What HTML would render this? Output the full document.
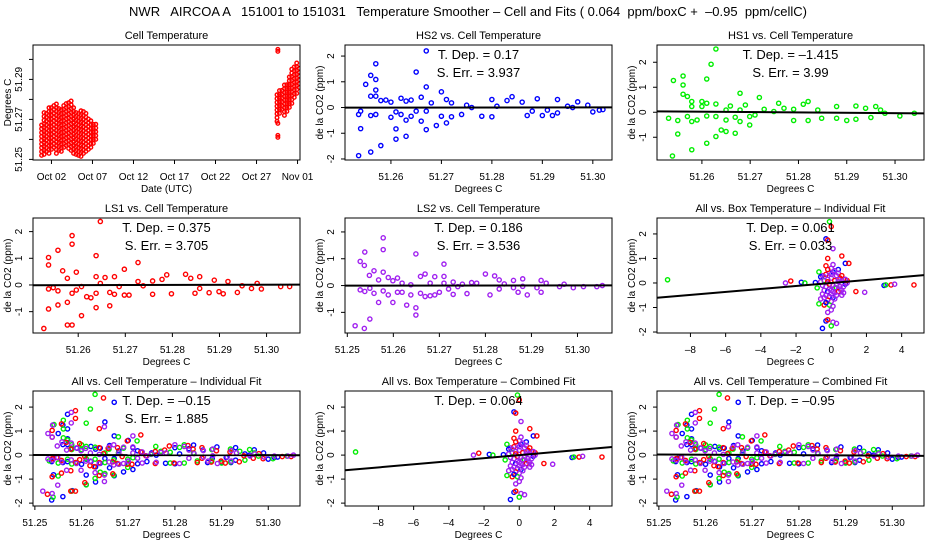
<!DOCTYPE html>
<html><head><meta charset="utf-8"><style>
html,body{margin:0;padding:0;background:#fff;}
svg{display:block;font-family:"Liberation Sans",sans-serif;}
</style></head><body>
<svg id="chart" width="936" height="540" viewBox="0 0 936 540">
<text x="468" y="16" text-anchor="middle" font-size="13" xml:space="preserve">NWR   AIRCOA A   151001 to 151031   Temperature Smoother – Cell and Fits ( 0.064  ppm/boxC +  –0.95  ppm/cellC)</text>
</svg>
<script>
// ---- Panel 1 data: cell temperature time series (day of Oct, low/high temps per column)
const cellDays = [0.8,1.1,1.4,1.7,2.0,2.3,2.6,2.9,3.2,3.5,3.8,4.1,4.4,4.7,5.0,5.3,5.6,5.9,6.2,6.5,6.8,7.1,7.4,29.5,29.8,30.1,30.4,30.7,31.0,31.3,31.6,31.9,32.2];
const cellLow  = [51.2520,51.2525,51.2540,51.2530,51.2550,51.2560,51.2530,51.2545,51.2540,51.2560,51.2570,51.2555,51.2545,51.2530,51.2525,51.2520,51.2515,51.2530,51.2540,51.2550,51.2560,51.2580,51.2600,51.2690,51.2730,51.2750,51.2720,51.2740,51.2760,51.2780,51.2810,51.2830,51.2860];
const cellHigh = [51.2690,51.2735,51.2745,51.2760,51.2760,51.2770,51.2790,51.2770,51.2760,51.2780,51.2790,51.2800,51.2800,51.2760,51.2740,51.2730,51.2745,51.2745,51.2730,51.2720,51.2705,51.2690,51.2680,51.2840,51.2850,51.2860,51.2880,51.2890,51.2920,51.2960,51.2980,51.2985,51.2960];
const cellExtraDays = [29.6,29.6,29.6,29.6,29.6];
const cellExtraTemps = [51.3050,51.3040,51.2620,51.2610,51.2680];

// ---- HS2 (blue)
const hs2T = [51.2536,51.2536,51.254,51.254,51.255,51.256,51.256,51.256,51.256,51.257,51.257,51.257,51.257,51.257,51.258,51.258,51.259,51.260,51.260,51.261,51.261,51.261,51.262,51.262,51.263,51.263,51.263,51.264,51.264,51.265,51.265,51.266,51.266,51.267,51.267,51.267,51.267,51.268,51.269,51.270,51.270,51.271,51.271,51.272,51.272,51.274,51.275,51.276,51.278,51.280,51.280,51.281,51.283,51.284,51.286,51.287,51.288,51.289,51.290,51.291,51.292,51.293,51.293,51.295,51.296,51.297,51.299,51.300,51.3013,51.302];
const hs2V = [-1.87,-0.27,-0.14,-0.82,0.9,1.25,0.44,-0.31,-1.73,1.7,1.09,0.68,0.44,-0.27,0.27,-1.48,0.29,0.21,-0.38,-0.17,-0.83,-1.23,0.36,-0.27,0.25,-0.49,-1.12,0.29,-0.34,1.38,-0.14,0.40,-0.53,2.2,0.8,-0.14,-0.86,0.18,-0.7,0.61,-0.34,0.31,-0.6,0.18,-0.36,-0.27,0.09,0,-0.34,0.31,-0.36,0.05,0.27,0.42,0.21,-0.31,-0.14,0.34,-0.31,-0.1,-0.31,0.31,-0.21,0.05,0,0.22,0.09,-0.17,-0.1,-0.08];
// ---- HS1 (green)
const hs1T = [51.2539,51.2531,51.2541,51.255,51.255,51.2561,51.2561,51.2561,51.257,51.257,51.2579,51.2579,51.2579,51.2579,51.259,51.26,51.26,51.261,51.261,51.261,51.261,51.2619,51.2629,51.2629,51.2629,51.2629,51.264,51.265,51.265,51.265,51.2659,51.2669,51.2669,51.2679,51.2679,51.2679,51.269,51.2699,51.2699,51.271,51.2719,51.2729,51.2749,51.2759,51.277,51.279,51.279,51.281,51.282,51.282,51.284,51.2848,51.2879,51.2879,51.29,51.2919,51.2919,51.2939,51.295,51.296,51.297,51.2979,51.301,51.304];
const hs1V = [-1.75,-0.24,1.27,-0.87,-0.33,1.45,1.09,0.72,0.63,-0.17,-1.5,-0.37,0.43,0.23,-0.31,0.43,0.23,1.33,-0.15,-1.24,0.36,1.92,2.53,0.33,-0.17,-0.97,-0.71,-0.77,0.09,-0.31,0.25,-0.84,-0.2,0.76,0.09,-0.37,0.29,-0.51,-0.17,-0.11,0.59,0.12,0.03,0.36,0.16,0.12,-0.33,0.32,0.43,-0.33,0.09,-0.24,0.23,-0.24,-0.33,0.25,-0.28,0.16,-0.21,0.23,0.09,-0.04,-0.15,-0.04];
// ---- LS1 (red)
const ls1T = [51.2527,51.2537,51.2537,51.2537,51.2537,51.2547,51.2557,51.2557,51.2557,51.2567,51.2577,51.2577,51.2577,51.2587,51.2587,51.2587,51.2587,51.2596,51.2596,51.2607,51.2607,51.2618,51.2627,51.2638,51.2638,51.2638,51.2638,51.2647,51.2647,51.2657,51.2667,51.2667,51.2677,51.2677,51.2687,51.2698,51.2698,51.2708,51.2727,51.2727,51.2738,51.2758,51.2758,51.2778,51.2788,51.2798,51.2828,51.2839,51.2848,51.2858,51.2858,51.2878,51.2889,51.2899,51.2908,51.2918,51.2938,51.2948,51.2968,51.298,51.2989,51.303,51.3049];
const ls1V = [-1.63,-0.9,-0.15,0.75,1.03,-0.1,1.3,-0.22,-0.75,0.53,-0.65,-1.5,0.25,1.53,1.85,-0.31,-1.5,0.48,-0.19,-1.15,-0.06,-0.44,-0.48,1.1,-0.31,-0.85,0.31,2.38,0.06,0.28,-0.78,-0.28,0.31,-0.35,-0.06,0.59,-0.38,-0.38,0.84,0.13,-0.03,-0.35,0.15,0.21,0.38,-0.33,0.4,0.25,-0.31,0.31,-0.13,-0.29,0.18,-0.25,-0.33,0.13,-0.28,-0.03,-0.13,0.06,-0.15,-0.06,-0.06];
// ---- LS2 (purple)
const ls2T = [51.2517,51.2528,51.2528,51.2537,51.2537,51.2538,51.2538,51.2548,51.2549,51.2549,51.2558,51.2558,51.2568,51.2568,51.2578,51.2578,51.2578,51.2578,51.2589,51.2589,51.2599,51.2599,51.2609,51.2609,51.2619,51.2619,51.2629,51.2638,51.2638,51.2649,51.2649,51.2649,51.2659,51.2659,51.2669,51.2669,51.2680,51.2680,51.2690,51.2690,51.2700,51.2710,51.2710,51.2710,51.2720,51.2730,51.2730,51.2740,51.2750,51.2760,51.2770,51.2781,51.2800,51.2810,51.2820,51.2830,51.2830,51.2841,51.2861,51.2861,51.2871,51.2881,51.2881,51.2891,51.2912,51.2921,51.2921,51.2932,51.2961,51.2971,51.2991,51.3013,51.3042,51.3054];
const ls2V = [-1.5,0.9,-0.16,-1.6,0.75,1.25,-0.22,0.38,-1.25,-0.1,0.55,-0.29,-0.63,0.21,1.78,1.34,0.5,-0.2,0.3,-0.35,-0.63,0.18,0.28,-0.25,0.09,-0.25,-0.73,-0.35,0.03,1.18,-0.83,-1.1,0.34,-0.29,0.43,-0.41,0.09,-0.38,0.33,-0.35,-0.25,0.8,0.34,0.09,-0.13,-0.33,0.13,-0.04,0.05,-0.3,0.11,0.09,0.43,-0.35,0.36,0.21,-0.13,0.06,0.19,-0.08,-0.25,0.25,-0.03,-0.35,-0.08,0.19,-0.25,0.09,-0.04,0.05,-0.08,-0.04,-0.04,0];
// ---- Box temperature differences (all instruments), series index 0=HS2,1=HS1,2=LS1,3=LS2
const boxX = [-9.3,-2.3,-2.6,-1.7,-1.5,-0.9,1.4,1.9,3.0,3.1,3.4,3.6,4.7,-0.1,0,-0.3,-0.2,0.1,0.6,0.8,1.0,-0.2,-0.7,-0.4,-0.7,-0.6,-0.3,0.1,-0.5,0.3,0,-0.2,0,
  -0.5,-0.3,-0.1,0.1,0.3,0.5,0.7,-0.4,-0.2,0,0.2,0.4,0.6,0.8,-0.5,-0.3,-0.1,0.1,0.3,0.5,-0.4,-0.2,0,0.2,0.4,0.6,-0.3,-0.1,0.1,0.3,-0.2,0,0.2,-0.1,0.1,0,-0.3,0.1,0.4,-0.2,0.9,-0.8,0.7,-0.6,
  -0.6,-0.4,-0.2,0,0.2,0.4,0.6,0.8,-0.5,-0.1,0.3,0.7,-0.3,0.1,0.5,0.9,-0.2,0.2,0.6,-0.4,0,0.4];
const boxY = [0.13,0.08,0.0,0.03,0.0,0.02,-0.35,-0.38,-0.1,-0.08,-0.08,-0.05,-0.08,2.5,2.3,1.8,1.75,1.4,1.1,0.8,0.8,1.0,0.45,-0.9,-0.85,-0.65,-1.55,-1.6,-1.85,-1.65,-1.75,-1.5,-1.1,
  0.3,0.35,0.4,0.45,0.3,0.2,0.15,0.1,0.15,0.2,0.1,0.05,0.0,-0.05,-0.1,-0.15,-0.05,-0.1,-0.2,-0.25,-0.3,-0.35,-0.3,-0.4,-0.35,-0.3,-0.5,-0.55,-0.6,-0.5,-0.7,-0.75,-0.65,-0.9,-0.95,0.6,0.7,0.75,0.55,-1.2,0.1,-0.2,-0.4,0.25,
  0.05,0.25,0.55,0.35,0.5,0.4,0.3,0.15,-0.45,-0.25,-0.05,-0.15,-0.8,-0.35,-0.15,0.0,0.05,-0.2,-0.5,-0.6,-0.45,0.15];
const boxS = [1,2,3,0,1,0,2,3,0,1,2,3,2,1,2,0,2,3,2,0,2,2,1,2,1,3,0,3,0,3,1,2,3,
  3,2,3,0,3,2,3,1,3,3,2,3,3,0,3,3,2,3,1,3,3,0,3,3,2,3,3,3,0,3,2,3,3,1,3,3,2,3,0,3,2,1,3,0,
  3,3,2,3,3,3,2,3,3,3,3,3,0,3,3,3,2,3,3,3,3,3];
// ---- Fit slopes (T. Dep.) per panel 2..9
const tDep = [0.17,-1.415,0.375,0.186,0.061,-0.15,0.064,-0.95];
const tDepLabel = ["0.17","–1.415","0.375","0.186","0.061","–0.15","0.064","–0.95"];
const sErrLabel = ["3.937","3.99","3.705","3.536","0.033","1.885","",""];
const cellTicks = [51.25,51.26,51.27,51.28,51.29,51.30];
const boxTicks = [-8,-6,-4,-2,0,2,4];
const co2Ticks = [-2,-1,0,1,2];
const dateTicks = [2,7,12,17,22,27,32];
const dateLabels = ["Oct 02","Oct 07","Oct 12","Oct 17","Oct 22","Oct 27","Nov 01"];

const NS='http://www.w3.org/2000/svg';
const svg=document.getElementById('chart');
const COLORS=['#0000ff','#00ee00','#ff0000','#a020f0'];
function mk(tag,attrs,parent){const e=document.createElementNS(NS,tag);for(const k in attrs)e.setAttribute(k,attrs[k]);(parent||svg).appendChild(e);return e;}
function scale(d,r){return v=>r[0]+(v-d[0])/(d[1]-d[0])*(r[1]-r[0]);}

const lefts=[33,345,657], tops=[45,218,391], W=267, H=115;
let clipN=0;
function panel(col,row,title,xd,yd,xt,xl,xtitle,yt,yl,ytitle,name){
  const g=mk('g',{});
  
  
  const L=lefts[col],T=tops[row];
  const sx=scale(xd,[L,L+W]), sy=scale(yd,[T+H,T]);
  const tt=mk('text',{x:L+W/2,y:T-6,'text-anchor':'middle','font-size':11},g);tt.textContent=title;
  
  
  const ax=mk('g',{stroke:'#000','stroke-width':1},g);
  
  
  const vis=xt.filter(v=>v>=xd[0]&&v<=xd[1]);
  mk('line',{x1:sx(vis[0]),x2:sx(vis[vis.length-1]),y1:T+H,y2:T+H},ax);
  xt.forEach((v,i)=>{ if(v<xd[0]||v>xd[1])return;
    mk('line',{x1:sx(v),x2:sx(v),y1:T+H,y2:T+H+4},ax);
    const t=mk('text',{x:sx(v),y:T+H+20,'text-anchor':'middle','font-size':10,stroke:'none'},g);t.textContent=xl[i];
    
    
  });
  const xtl=mk('text',{x:L+W/2,y:T+H+32,'text-anchor':'middle','font-size':10},g);xtl.textContent=xtitle;
  
  
  const ay=mk('g',{stroke:'#000','stroke-width':1},g);
  
  
  const yv=yt.filter(v=>v>=yd[0]&&v<=yd[1]);
  mk('line',{x1:L,x2:L,y1:sy(yv[0]),y2:sy(yv[yv.length-1])},ay);
  yt.forEach((v,i)=>{ if(v<yd[0]||v>yd[1])return;
    mk('line',{x1:L-4,x2:L,y1:sy(v),y2:sy(v)},ay);
    if(yl[i]==='')return;
    const t=mk('text',{x:L-11,y:sy(v),'text-anchor':'middle','font-size':10,transform:`rotate(-90 ${L-11} ${sy(v)})`,stroke:'none'},g);t.textContent=yl[i];
    
    
  });
  const ytl=mk('text',{x:L-22,y:T+H/2,'text-anchor':'middle','font-size':10,transform:`rotate(-90 ${L-22} ${T+H/2})`},g);ytl.textContent=ytitle;
  
  
  const id='clip'+(clipN++);
  const cp=mk('clipPath',{id:id},g);mk('rect',{x:L,y:T,width:W,height:H},cp);
  const plot=mk('g',{'clip-path':`url(#${id})`},g);
  
  
  const box=mk('rect',{x:L,y:T,width:W,height:H,fill:'none',stroke:'#000','stroke-width':1},g);
  
  
  return {g,plot,sx,sy,L,T};
}
function dot(p,x,y,c,r){
  const e=mk('circle',{cx:p.sx(x),cy:p.sy(y),r:r||2.1,fill:'none',stroke:c,'stroke-width':1.4},p.plot);
  
  
}
function fit(p,slope,xc,xd){
  const l=mk('line',{x1:p.sx(xd[0]),y1:p.sy(slope*(xd[0]-xc)),x2:p.sx(xd[1]),y2:p.sy(slope*(xd[1]-xc)),stroke:'#000','stroke-width':2},p.plot);
  
  
}
function stats(p,i){
  const a=mk('text',{x:p.L+W/2,y:p.T+14,'text-anchor':'middle','font-size':13,'xml:space':'preserve'},p.g);
  a.textContent='T. Dep. =  '+tDepLabel[i];
  
  
  if(sErrLabel[i]){
    const b=mk('text',{x:p.L+W/2,y:p.T+32,'text-anchor':'middle','font-size':13,'xml:space':'preserve'},p.g);
    b.textContent='S. Err. =  '+sErrLabel[i];
    
    
  }
}
const cellLab=cellTicks.map(v=>v.toFixed(2));
const co2Lab=co2Ticks.map(String);
const boxLab=boxTicks.map(v=>v<0?'–'+(-v):String(v));
const CO2T='de la CO2 (ppm)', DEG='Degrees C';
const series=[[hs2T,hs2V],[hs1T,hs1V],[ls1T,ls1V],[ls2T,ls2V]];

// Panel 1
{
  const xd=[-0.25,32.3], yd=[51.2497,51.3072];
  const p=panel(0,0,'Cell Temperature',xd,yd,dateTicks,dateLabels,'Date (UTC)',cellTicks,cellTicks.map((v,i)=>i%2===0?v.toFixed(2):''),DEG,'panel-cell-temperature');
  cellDays.forEach((d,i)=>{for(let t=cellLow[i];t<=cellHigh[i]+1e-9;t+=0.0019)dot(p,d,t,'#ff0000',1.8);});
  cellExtraDays.forEach((d,i)=>dot(p,d,cellExtraTemps[i],'#ff0000',1.8));
}
// Panels 2-5
const cfg=[
  [1,0,'HS2 vs. Cell Temperature',[51.2509,51.3038],[-2.04,2.43],0,'panel-hs2'],
  [2,0,'HS1 vs. Cell Temperature',[51.2507,51.3060],[-1.91,2.69],1,'panel-hs1'],
  [0,1,'LS1 vs. Cell Temperature',[51.2504,51.3071],[-1.80,2.51],2,'panel-ls1'],
  [1,1,'LS2 vs. Cell Temperature',[51.2495,51.3075],[-1.77,2.52],3,'panel-ls2']];
cfg.forEach((c,i)=>{
  const p=panel(c[0],c[1],c[2],c[3],c[4],cellTicks,cellLab,DEG,co2Ticks,co2Lab,CO2T,c[6]);
  const s=series[c[5]];
  s[0].forEach((x,j)=>dot(p,x,s[1][j],COLORS[c[5]]));
  fit(p,tDep[i],51.275,c[3]);
  stats(p,i);
});
// Panel 6 & 8: box temperature
[[2,1,'All vs. Box Temperature – Individual Fit',[-2.04,2.65],4,'panel-all-box-individual'],
 [1,2,'All vs. Box Temperature – Combined Fit',[-2.12,2.67],6,'panel-all-box-combined']].forEach(c=>{
  const xd=[-9.9,5.27];
  const p=panel(c[0],c[1],c[2],xd,c[3],boxTicks,boxLab,DEG,co2Ticks,co2Lab,CO2T,c[5]);
  boxX.forEach((x,j)=>dot(p,x,boxY[j],COLORS[boxS[j]]));
  fit(p,tDep[c[4]],0,xd);
  stats(p,c[4]);
});
// Panel 7 & 9: all vs cell
[[0,2,'All vs. Cell Temperature – Individual Fit',5,'panel-all-cell-individual'],
 [2,2,'All vs. Cell Temperature – Combined Fit',7,'panel-all-cell-combined']].forEach(c=>{
  const xd=[51.2496,51.3068], yd=[-2.12,2.67];
  const p=panel(c[0],c[1],c[2],xd,yd,cellTicks,cellLab,DEG,co2Ticks,co2Lab,CO2T,c[4]);
  series.forEach((s,k)=>s[0].forEach((x,j)=>dot(p,x,s[1][j],COLORS[k])));
  fit(p,tDep[c[3]],51.275,xd);
  stats(p,c[3]);
});
</script>
</body></html>
